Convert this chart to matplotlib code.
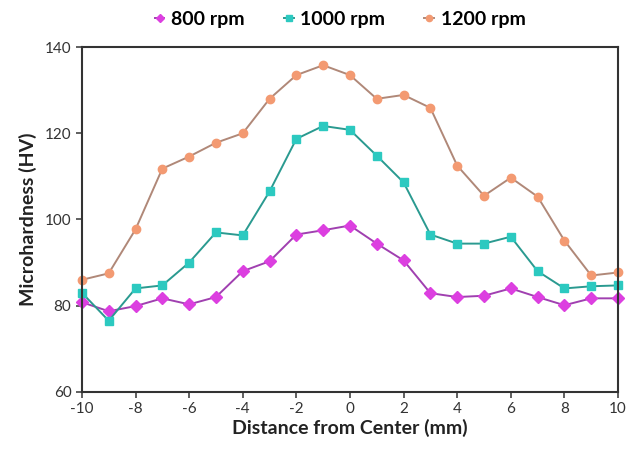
import numpy as np
import matplotlib.pyplot as plt

# distance from weld centre (mm)
distance = list(range(-10, 11))

# microhardness (HV)
hv_800 = [80.8, 78.7, 79.9, 81.7, 80.3, 82.0, 88.0, 90.3, 96.5, 97.5, 98.6,
          94.4, 90.5, 82.9, 82.0, 82.3, 84.0, 82.0, 80.1, 81.7, 81.7]
hv_1000 = [83.0, 76.5, 84.0, 84.7, 90.0, 97.0, 96.3, 106.5, 118.7, 121.7, 120.8,
           114.8, 108.6, 96.5, 94.4, 94.4, 96.0, 88.0, 84.0, 84.5, 84.7]
hv_1200 = [86.0, 87.5, 97.7, 111.8, 114.6, 117.8, 120.0, 128.0, 133.5, 135.8, 133.5,
           128.0, 128.9, 125.9, 112.5, 105.5, 109.7, 105.3, 95.1, 87.0, 87.7]

labels = ['800 rpm', '1000 rpm', '1200 rpm']

plt.rcParams['font.family'] = ['Lato', 'DejaVu Sans']
plt.rcParams['axes.unicode_minus'] = False

fig = plt.figure(figsize=(6.3, 4.53), dpi=100)
ax = fig.add_axes([0.130, 0.135, 0.851, 0.761])

# series: values, marker, face colour, line colour, size
series = [
    (hv_800, 'D', '#dc3fe0', '#a040b0', 6),
    (hv_1000, 's', '#2cc9c0', '#2a9a90', 5.5),
    (hv_1200, 'o', '#f39a72', '#b08878', 6),
]
for (vals, mk, fc, lc, ms), lab in zip(series, labels):
    ax.plot(distance, vals, color=lc, linewidth=1.4, marker=mk, markersize=ms,
            markerfacecolor=fc, markeredgecolor=fc, label=lab, clip_on=False)

ax.set_xlim(-10, 10)
ax.set_ylim(60, 140)
ax.set_xticks(range(-10, 11, 2))
ax.set_yticks(range(60, 141, 20))
ax.tick_params(labelsize=11, labelcolor='#333333', length=4, width=1.2, color='#444444')
for s in ax.spines.values():
    s.set_linewidth(1.5)
    s.set_color('#333333')

ax.set_xlabel('Distance from Center (mm)', fontsize=14, fontweight='bold', color='#222222', labelpad=2)
ax.set_ylabel('Microhardness (HV)', fontsize=14, fontweight='bold', color='#222222', labelpad=6)

fig.legend(loc='center', bbox_to_anchor=(0.54, 0.957), ncol=3, frameon=False,
           prop={'weight': 'bold', 'size': 14}, handlelength=0.5,
           handletextpad=0.35, columnspacing=2.0, markerscale=0.75)

fig.savefig('out.png', dpi=100)
